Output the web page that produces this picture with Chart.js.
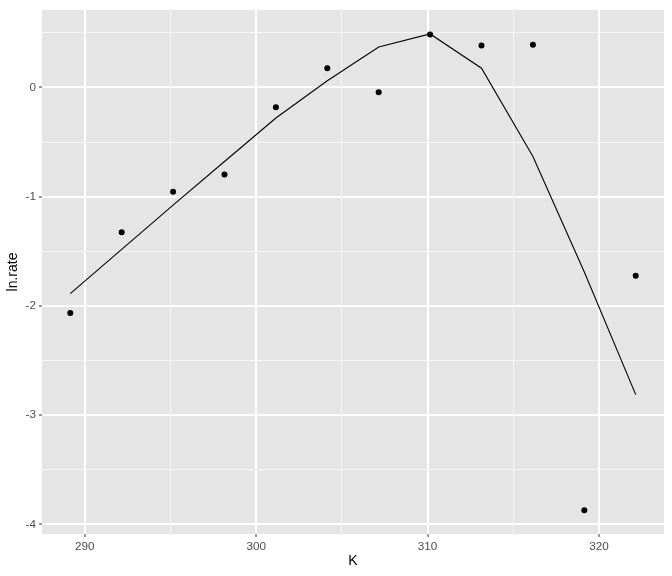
<!DOCTYPE html>
<html>
<head>
<meta charset="utf-8">
<script src="https://cdn.jsdelivr.net/npm/chart.js@4/dist/chart.umd.min.js"></script>
<style>
  body { margin: 0; background: #fff; }
  canvas { display: block; }
</style>
</head>
<body>
<canvas id="myChart" width="672" height="576"></canvas>
<script>
"use strict";

// temperatures (K) and observed / fitted ln.rate
var kelvin = [289.15, 292.15, 295.15, 298.15, 301.15, 304.15, 307.15, 310.15, 313.15, 316.15, 319.15, 322.15];
var observed = [-2.066, -1.325, -0.955, -0.796, -0.182, 0.175, -0.043, 0.485, 0.385, 0.390, -3.871, -1.725];
var fitted = [-1.888, -1.482, -1.078, -0.678, -0.280, 0.061, 0.370, 0.490, 0.176, -0.632, -1.690, -2.813];

var xTicks = [290, 295, 300, 305, 310, 315, 320];
var yTicks = [-4, -3.5, -3, -2.5, -2, -1.5, -1, -0.5, 0, 0.5];
var xMajor = [290, 300, 310, 320];
var yMajor = [-4, -3, -2, -1, 0];

function toXY(xs, ys) {
    return xs.map(function (x, i) { return {x: x, y: ys[i]}; });
}

var panelBg = {
    id: 'panelBg',
    beforeDraw: function (chart) {
        var a = chart.chartArea;
        var ctx = chart.ctx;
        ctx.save();
        ctx.fillStyle = '#E5E5E5';
        ctx.fillRect(a.left, a.top, a.right - a.left, a.bottom - a.top);
        ctx.restore();
    }
};

function gridFor(major) {
    return {
        color: function (c) { return major.indexOf(c.tick.value) >= 0 ? '#FFFFFF' : '#F7F7F7'; },
        lineWidth: function (c) { return major.indexOf(c.tick.value) >= 0 ? 2 : 1; },
        tickColor: function (c) { return major.indexOf(c.tick.value) >= 0 ? '#333333' : 'rgba(0,0,0,0)'; },
        tickLength: 3,
        tickWidth: 1
    };
}

var ctx = document.getElementById('myChart').getContext('2d');
var chart = new Chart(ctx, {
    type: 'scatter',
    data: {
        datasets: [{
            label: 'observed',
            data: toXY(kelvin, observed),
            backgroundColor: '#000000',
            borderWidth: 0,
            pointRadius: 3,
            showLine: false
        }, {
            label: 'fitted',
            data: toXY(kelvin, fitted),
            borderColor: '#000000',
            borderWidth: 1.1,
            pointRadius: 0,
            showLine: true,
            tension: 0
        }]
    },
    options: {
        responsive: false,
        devicePixelRatio: 1,
        animation: false,
        layout: { padding: {top: 7, right: 8, left: 0, bottom: 0} },
        plugins: {
            legend: { display: false },
            tooltip: { enabled: false }
        },
        scales: {
            x: {
                type: 'linear',
                min: 287.5,
                max: 323.8,
                afterBuildTicks: function (s) { s.ticks = xTicks.map(function (v) { return {value: v}; }); },
                afterFit: function (s) { s.height = 42; },
                grid: gridFor(xMajor),
                border: { display: false },
                ticks: {
                    padding: 3,
                    color: '#4D4D4D',
                    font: { family: '"Liberation Sans", Arial, sans-serif', size: 11.7 },
                    maxRotation: 0,
                    callback: function (v) { return xMajor.indexOf(v) >= 0 ? String(v) : ''; }
                },
                title: {
                    display: true,
                    text: 'K',
                    color: '#000000',
                    font: { family: '"Liberation Sans", Arial, sans-serif', size: 14 },
                    padding: {top: 0, bottom: 6.6}
                }
            },
            y: {
                type: 'linear',
                min: -4.089,
                max: 0.709,
                afterBuildTicks: function (s) { s.ticks = yTicks.map(function (v) { return {value: v}; }); },
                afterFit: function (s) { s.width = 42; },
                grid: gridFor(yMajor),
                border: { display: false },
                ticks: {
                    padding: 3,
                    color: '#4D4D4D',
                    font: { family: '"Liberation Sans", Arial, sans-serif', size: 11.7 },
                    callback: function (v) { return yMajor.indexOf(v) >= 0 ? String(v) : ''; }
                },
                title: {
                    display: true,
                    text: 'ln.rate',
                    color: '#000000',
                    font: { family: '"Liberation Sans", Arial, sans-serif', size: 14 },
                    padding: {top: 5, bottom: 0}
                }
            }
        }
    },
    plugins: [panelBg]
});
</script>
</body>
</html>
